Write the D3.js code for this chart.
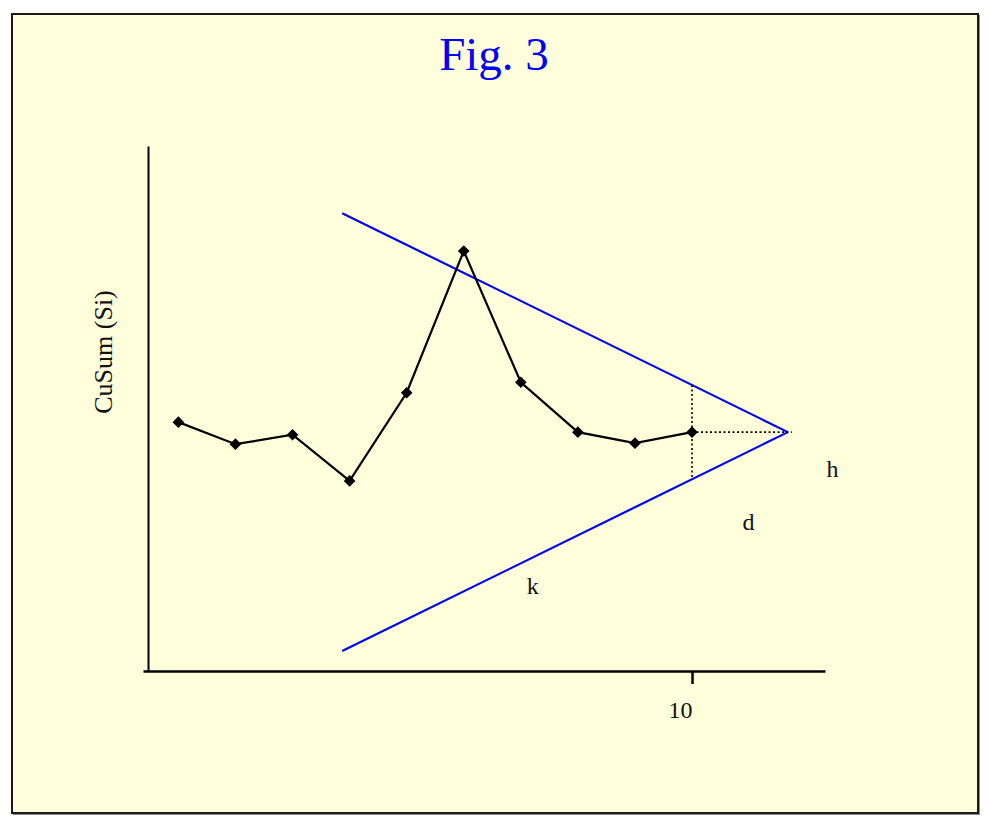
<!DOCTYPE html>
<html>
<head>
<meta charset="utf-8">
<script src="https://cdn.jsdelivr.net/npm/d3@7"></script>
<style>
  body { margin: 0; background: #fff; }
  text { font-family: "Liberation Serif", "Times New Roman", serif; }
</style>
</head>
<body>
<div id="chart"></div>
<script>
        // CuSum points (sample index, cumulative sum)
        const sampleIdx = [1, 2, 3, 4, 5, 6, 7, 8, 9, 10];
        const cusum = [47.4, 43.2, 45.0, 36.2, 53.0, 80.0, 55.0, 45.5, 43.4, 45.5];

        // V-mask arms: [x, y] from the open end to the vertex
        const maskUpper = [[3.87, 87.2], [11.68, 45.5]];
        const maskLower = [[3.87, 3.8], [11.68, 45.5]];
        const leadPoint = 10; // point the mask is placed on

        const xTicks = [10];
        const title = "Fig. 3";
        const yLabel = "CuSum (Si)";
        const maskLabels = [
            { text: "h", x: 12.46, y: 36.9 },
            { text: "d", x: 10.99, y: 26.8 },
            { text: "k", x: 7.21, y: 14.6 }
        ];

        const W = 989, H = 822;
        const plot = { left: 143, right: 825, top: 146, bottom: 671 };

        const svg = d3.select("#chart")
            .append("svg")
            .attr("width", W)
            .attr("height", H);

        // frame
        svg.append("rect")
            .attr("x", 13).attr("y", 15)
            .attr("width", 967).attr("height", 800)
            .attr("fill", "#888");
        svg.append("rect")
            .attr("x", 12).attr("y", 14)
            .attr("width", 966).attr("height", 799)
            .attr("fill", "#ffffdc")
            .attr("stroke", "#1a1a1a")
            .attr("stroke-width", 2);

        svg.append("text")
            .attr("x", 494).attr("y", 70)
            .attr("text-anchor", "middle")
            .attr("font-size", 47)
            .attr("fill", "#0000ff")
            .text(title);

        const xScale = d3.scaleLinear()
            .domain([0.38, 12.33])
            .range([plot.left, plot.right]);

        const yScale = d3.scaleLinear()
            .domain([0, 100])
            .range([plot.bottom, plot.top]);

        // axes
        const xAxis = svg.append("g")
            .attr("transform", `translate(0,${plot.bottom})`)
            .call(d3.axisBottom(xScale).tickValues(xTicks).tickSize(13).tickSizeOuter(0).tickPadding(17));
        xAxis.select(".domain").attr("stroke-width", 2.5);
        xAxis.selectAll(".tick line").attr("stroke-width", 2.5);
        xAxis.selectAll(".tick text")
            .attr("font-family", "Liberation Serif")
            .attr("font-size", 24)
            .attr("dx", -12)
            .attr("fill", "#111");

        const yAxis = svg.append("g")
            .attr("transform", `translate(148,0)`)
            .call(d3.axisLeft(yScale).tickValues([]).tickSizeOuter(0));
        yAxis.select(".domain").attr("stroke-width", 2);

        svg.append("text")
            .attr("transform", "translate(112,352) rotate(-90)")
            .attr("text-anchor", "middle")
            .attr("font-size", 26)
            .attr("fill", "#111")
            .text(yLabel);

        // V-mask arms
        const line = d3.line().x(d => xScale(d[0])).y(d => yScale(d[1]));
        [maskUpper, maskLower].forEach(arm => {
            svg.append("path")
                .attr("d", line(arm))
                .attr("fill", "none")
                .attr("stroke", "#0000ff")
                .attr("stroke-width", 2.2);
        });

        // dotted guides: vertical at lead point, horizontal to vertex
        function armY(arm, x) {
            const t = (x - arm[0][0]) / (arm[1][0] - arm[0][0]);
            return arm[0][1] + t * (arm[1][1] - arm[0][1]);
        }
        const leadY = cusum[sampleIdx.indexOf(leadPoint)];
        const vertex = maskUpper[1];
        svg.append("path")
            .attr("d", line([[leadPoint, armY(maskUpper, leadPoint)], [leadPoint, armY(maskLower, leadPoint)]]))
            .attr("stroke", "#000").attr("stroke-width", 1.6)
            .attr("stroke-dasharray", "2,2.5");
        svg.append("path")
            .attr("d", line([[leadPoint, leadY], [vertex[0] + 0.07, leadY]]))
            .attr("stroke", "#000").attr("stroke-width", 1.6)
            .attr("stroke-dasharray", "2,2.5");

        // CuSum series
        const pts = sampleIdx.map((x, i) => [x, cusum[i]]);
        svg.append("path")
            .attr("d", line(pts))
            .attr("fill", "none")
            .attr("stroke", "#000")
            .attr("stroke-width", 2.2);

        svg.selectAll(".marker")
            .data(pts)
            .enter()
            .append("path")
            .attr("class", "marker")
            .attr("d", d3.symbol().type(d3.symbolSquare).size(68))
            .attr("transform", d => `translate(${xScale(d[0])},${yScale(d[1])}) rotate(45)`)
            .attr("fill", "#000");

        // mask labels
        svg.selectAll(".mlabel")
            .data(maskLabels)
            .enter()
            .append("text")
            .attr("class", "mlabel")
            .attr("x", d => xScale(d.x))
            .attr("y", d => yScale(d.y))
            .attr("text-anchor", "middle")
            .attr("font-size", 24)
            .attr("fill", "#111")
            .text(d => d.text);
</script>
</body>
</html>
